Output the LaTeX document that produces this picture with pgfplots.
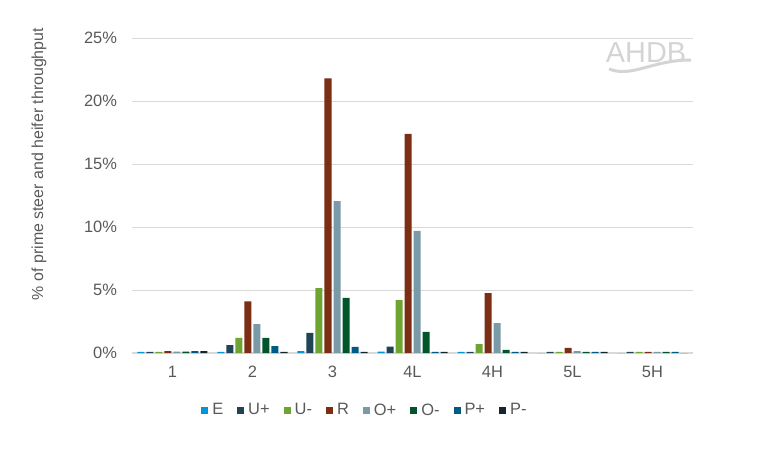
\documentclass[border=0pt]{standalone}
\usepackage{pgfplots}
\usepackage{pgfplotstable}
\pgfplotsset{compat=1.18}
\usepackage{fontspec}
\setmainfont{Liberation Sans}
\definecolor{txt}{HTML}{595959}
\definecolor{gridc}{HTML}{D9D9D9}
\definecolor{cE}{HTML}{0095D9}
\definecolor{cUp}{HTML}{1F4454}
\definecolor{cUm}{HTML}{6EA532}
\definecolor{cR}{HTML}{7B2E13}
\definecolor{cOp}{HTML}{7A9AA8}
\definecolor{cOm}{HTML}{02542B}
\definecolor{cPp}{HTML}{005A87}
\definecolor{cPm}{HTML}{15262F}
\definecolor{logo}{HTML}{D4D4D4}

\pgfplotstableread{
x  E     Up    Um    R     Op    Om    Pp    Pm
0  0.08  0.08  0.08  0.15  0.10  0.10  0.15  0.15
1  0.08  0.63  1.20  4.10  2.30  1.20  0.55  0.08
2  0.15  1.60  5.15  21.80 12.05 4.37  0.48  0.08
3  0.10  0.50  4.20  17.40 9.70  1.67  0.08  0.08
4  0.08  0.08  0.71  4.76  2.38  0.25  0.08  0.08
5  0.00  0.08  0.08  0.40  0.15  0.08  0.08  0.08
6  0.00  0.08  0.08  0.08  0.08  0.08  0.08  0.00
}\datatable

\begin{document}
\begin{tikzpicture}[x=1bp,y=1bp]
\begin{axis}[
  scale only axis, width=560bp, height=315bp,
  xmin=-0.5, xmax=6.5, ymin=0, ymax=25,
  ybar=2bp, bar width=7bp,
  xtick={0,...,6},
  xticklabels={1,2,3,4L,4H,5L,5H},
  ytick={0,5,10,15,20,25},
  yticklabel={\pgfmathprintnumber{\tick}\%},
  /pgf/number format/assume math mode=true,
  tick label style={font=\fontsize{16.5}{19}\selectfont, text=txt},
  xticklabel style={yshift=-10bp},
  yticklabel style={xshift=-12bp},
  major tick length=0pt,
  ymajorgrids, grid style={gridc, line width=0.9bp},
  axis x line*=bottom, axis y line*=left,
  x axis line style={gridc, line width=1.2bp, -},
  y axis line style={draw=none},
  ylabel={\% of prime steer and heifer throughput},
  every axis y label/.style={at={(axis description cs:-0.167,0.6)}, rotate=90, anchor=center,
    font=\fontsize{16}{19}\selectfont, text=txt},
  legend columns=8,
  legend style={draw=none, fill=none, at={(axis description cs:0.415,-0.181)}, anchor=center,
    font=\fontsize{16.5}{19}\selectfont, text=txt,
    /tikz/every odd column/.append style={column sep=2bp},
    /tikz/every even column/.append style={column sep=12bp}},
  legend image code/.code={\fill[#1] (0bp,-3.5bp) rectangle (7bp,3.5bp);},
  every axis plot/.append style={draw=none},
]
\addplot[fill=cE] table[x=x,y=E] {\datatable};
\addplot[fill=cUp] table[x=x,y=Up] {\datatable};
\addplot[fill=cUm] table[x=x,y=Um] {\datatable};
\addplot[fill=cR] table[x=x,y=R] {\datatable};
\addplot[fill=cOp] table[x=x,y=Op] {\datatable};
\addplot[fill=cOm] table[x=x,y=Om] {\datatable};
\addplot[fill=cPp] table[x=x,y=Pp] {\datatable};
\addplot[fill=cPm] table[x=x,y=Pm] {\datatable};
\legend{E,U+,U-,R,O+,O-,P+,P-}
\end{axis}
\coordinate (O) at ([shift={(-132.5bp,-97bp)}]current axis.south west);
\pgfresetboundingbox
\path[use as bounding box] (O) rectangle ([shift={(760bp,450bp)}]O);
\node[text=logo, font=\fontsize{29}{32}\selectfont, inner sep=0pt] at ([shift={(646bp,397bp)}]O) {AHDB};
\draw[logo, line width=3bp] ([shift={(609bp,381bp)}]O) .. controls ([shift={(632bp,372bp)}]O) and ([shift={(652bp,390bp)}]O) .. ([shift={(691bp,390bp)}]O);
\end{tikzpicture}
\end{document}
